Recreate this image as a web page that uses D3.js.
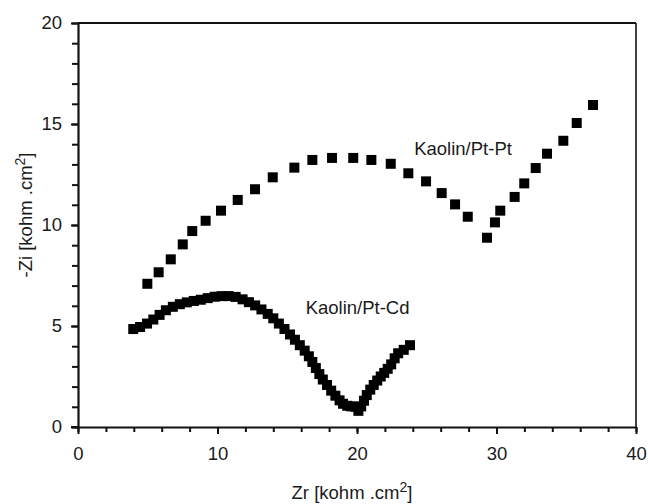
<!DOCTYPE html>
<html>
<head>
<meta charset="utf-8">
<script src="https://cdn.jsdelivr.net/npm/d3@7"></script>
<style>
  html, body { margin: 0; padding: 0; background: #fff; }
  svg { display: block; }
  text { font-family: "Liberation Sans", Arial, sans-serif; fill: #1a1a1a; }
</style>
</head>
<body>
<svg id="chart" width="648" height="504"></svg>
<script>
// ---- data ----
const ptPtZr = [4.97, 5.78, 6.65, 7.51, 8.19, 9.15, 10.25, 11.45, 12.69, 13.96, 15.51, 16.80, 18.21, 19.73, 21.03, 22.42, 23.68, 24.95, 26.07, 27.03, 27.94, 29.32, 29.89, 30.27, 31.30, 31.99, 32.81, 33.62, 34.79, 35.75, 36.92];
const ptPtZi = [7.09, 7.66, 8.30, 9.04, 9.70, 10.21, 10.71, 11.24, 11.77, 12.36, 12.84, 13.22, 13.32, 13.32, 13.22, 13.03, 12.56, 12.16, 11.58, 11.02, 10.41, 9.37, 10.13, 10.71, 11.39, 12.06, 12.82, 13.53, 14.17, 15.05, 15.94];

const ptCdZr = [3.96, 4.45, 4.95, 5.4, 5.85, 6.3, 6.8, 7.3, 7.8, 8.3, 8.8, 9.3, 9.8, 10.3, 10.8, 11.3, 11.8, 12.25, 12.7, 13.15, 13.6, 14.0, 14.4, 14.8, 15.2, 15.55, 15.9, 16.25, 16.55, 16.8, 17.05, 17.3, 17.55, 17.85, 18.15, 18.45, 18.75, 19.0, 19.3, 19.6, 19.9, 20.1, 20.3, 20.5, 20.7, 20.95, 21.2, 21.45, 21.7, 21.95, 22.2, 22.45, 22.7, 22.95, 23.35, 23.8];
const ptCdZi = [4.85, 4.95, 5.12, 5.32, 5.55, 5.78, 5.95, 6.08, 6.17, 6.24, 6.30, 6.38, 6.45, 6.48, 6.48, 6.44, 6.32, 6.18, 6.02, 5.82, 5.60, 5.38, 5.12, 4.85, 4.58, 4.32, 4.05, 3.78, 3.50, 3.22, 2.92, 2.62, 2.35, 2.08, 1.80, 1.55, 1.32, 1.15, 1.05, 1.02, 1.00, 0.80, 1.02, 1.30, 1.58, 1.85, 2.08, 2.30, 2.50, 2.68, 2.88, 3.10, 3.40, 3.65, 3.82, 4.05];

const xMajorTicks = [0, 10, 20, 30, 40];
const yMajorTicks = [0, 5, 10, 15, 20];
const xTitle = "Zr [kohm .cm";
const yTitle = "-Zi [kohm .cm";
const seriesLabels = ["Kaolin/Pt-Pt", "Kaolin/Pt-Cd"];

// ---- layout ----
const svg = d3.select("#chart");
const mLeft = 78, mRight = 636, mTop = 23, mBottom = 427;
const x = d3.scaleLinear().domain([0, 40]).range([mLeft, mRight]);
const y = d3.scaleLinear().domain([0, 20]).range([mBottom, mTop]);
const fs = 18.5;

// frame (top & right)
svg.append("line").attr("x1", mLeft).attr("x2", mRight).attr("y1", mTop).attr("y2", mTop)
  .attr("stroke", "#111").attr("stroke-width", 2);
svg.append("line").attr("x1", mRight).attr("x2", mRight).attr("y1", mTop).attr("y2", mBottom)
  .attr("stroke", "#111").attr("stroke-width", 1.6);

// x minor ticks
const xMinor = svg.append("g").attr("transform", `translate(0,${mBottom})`)
  .call(d3.axisBottom(x).tickValues(d3.range(0, 41, 2)).tickSize(5).tickSizeOuter(0).tickFormat(""));
xMinor.select(".domain").remove();
// x major
const xAxis = svg.append("g").attr("transform", `translate(0,${mBottom})`)
  .call(d3.axisBottom(x).tickValues(xMajorTicks).tickSize(7).tickSizeOuter(0).tickPadding(13));

// y minor
const yMinor = svg.append("g").attr("transform", `translate(${mLeft},0)`)
  .call(d3.axisLeft(y).tickValues(d3.range(0, 21, 1)).tickSize(6).tickSizeOuter(0).tickFormat(""));
yMinor.select(".domain").remove();
// y major
const yAxis = svg.append("g").attr("transform", `translate(${mLeft},0)`)
  .call(d3.axisLeft(y).tickValues(yMajorTicks).tickSize(7).tickSizeOuter(0).tickPadding(9));

svg.selectAll("g").attr("font-family", null).attr("font-size", null);
svg.selectAll(".tick text").style("font-size", fs + "px").attr("fill", "#1a1a1a");
svg.selectAll(".tick line").attr("stroke", "#111").attr("stroke-width", 2);
svg.selectAll(".domain").attr("stroke", "#111").attr("stroke-width", 2.2);

// extend x-axis line to left to meet y tick
svg.append("line").attr("x1", mLeft - 7).attr("x2", mLeft).attr("y1", mBottom).attr("y2", mBottom)
  .attr("stroke", "#111").attr("stroke-width", 2);

// markers
const sz = 10;
function drawSeries(zr, zi) {
  svg.append("g").selectAll("rect")
    .data(zr.map((v, i) => [v, zi[i]]))
    .join("rect")
    .attr("x", d => x(d[0]) - sz / 2)
    .attr("y", d => y(d[1]) - sz / 2)
    .attr("width", sz).attr("height", sz)
    .attr("fill", "#000");
}
drawSeries(ptPtZr, ptPtZi);
drawSeries(ptCdZr, ptCdZi);

// series labels
svg.append("text").attr("x", x(24.1)).attr("y", y(13.45)).style("font-size", fs + "px").text(seriesLabels[0]);
svg.append("text").attr("x", x(16.32)).attr("y", y(5.6)).style("font-size", fs + "px").text(seriesLabels[1]);

// axis titles
const xt = svg.append("text").attr("x", 352).attr("y", 499)
  .attr("text-anchor", "middle").style("font-size", fs + "px");
xt.append("tspan").text(xTitle);
xt.append("tspan").attr("dy", -7).style("font-size", "14px").text("2");
xt.append("tspan").attr("dy", 7).text("]");

const yt = svg.append("text").attr("transform", `translate(32,${(mTop + mBottom) / 2 - 10}) rotate(-90)`)
  .attr("text-anchor", "middle").style("font-size", fs + "px");
yt.append("tspan").text(yTitle);
yt.append("tspan").attr("dy", -7).style("font-size", "14px").text("2");
yt.append("tspan").attr("dy", 7).text("]");
</script>
</body>
</html>
